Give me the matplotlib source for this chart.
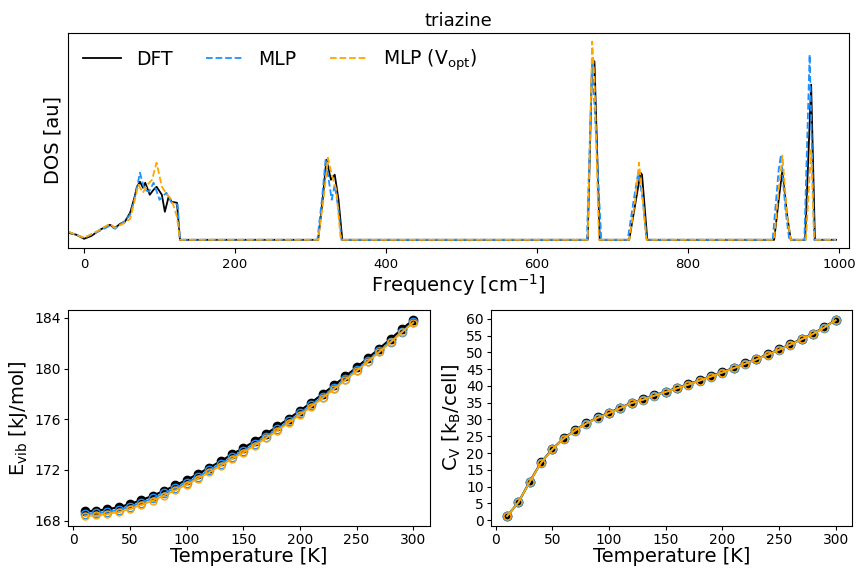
import matplotlib
matplotlib.use("Agg")
import matplotlib.pyplot as plt
from matplotlib.ticker import MultipleLocator

# ---------------- DOS data (frequency in cm^-1, DOS in arbitrary units) ----------------
dft_freq = [-21, -10, 0, 10, 21, 34, 41, 48, 54, 61, 67, 70, 74, 78, 81, 87, 92, 96, 103, 107,
            112, 116, 123, 127, 310, 316, 321, 327, 332, 337, 342, 667, 673, 676, 683, 722, 731,
            737, 739, 746, 914, 920, 925, 931, 936, 955, 963, 968, 996]
dft_dos = [0.07, 0.05, 0.01, 0.04, 0.10, 0.15, 0.12, 0.16, 0.18, 0.27, 0.43, 0.53, 0.58, 0.52, 0.57,
           0.45, 0.50, 0.53, 0.45, 0.28, 0.43, 0.38, 0.37, 0.0, 0.0, 0.40, 0.80, 0.60, 0.65, 0.40, 0.0,
           0.0, 1.80, 1.78, 0.0, 0.0, 0.40, 0.67, 0.65, 0.0, 0.0, 0.40, 0.70, 0.25, 0.0, 0.0, 1.55,
           0.0, 0.0]

mlp_freq = [-21, 0, 21, 34, 41, 54, 61, 67, 74, 80, 86, 92, 100, 109, 116, 124, 127, 309, 315, 320,
            324, 328, 332, 337, 341, 666, 673, 677, 685, 720, 728, 734, 740, 745, 912, 920, 923, 929,
            934, 954, 961, 967, 996]
mlp_dos = [0.08, 0.02, 0.09, 0.14, 0.11, 0.19, 0.25, 0.41, 0.67, 0.50, 0.48, 0.57, 0.40, 0.47, 0.37,
           0.35, 0.0, 0.0, 0.40, 0.81, 0.60, 0.40, 0.55, 0.30, 0.0, 0.0, 1.80, 1.20, 0.0, 0.0, 0.40,
           0.67, 0.40, 0.0, 0.0, 0.70, 0.85, 0.30, 0.0, 0.0, 1.85, 0.0, 0.0]

vopt_freq = [-21, 0, 21, 34, 41, 54, 61, 65, 72, 78, 84, 90, 96, 103, 110, 116, 123, 127, 310, 317,
             323, 328, 334, 340, 667, 673, 676, 682, 722, 730, 735, 738, 745, 914, 920, 925, 931,
             936, 956, 963, 967, 996]
vopt_dos = [0.08, 0.02, 0.10, 0.16, 0.12, 0.17, 0.21, 0.33, 0.55, 0.47, 0.55, 0.60, 0.77, 0.53, 0.45,
            0.40, 0.23, 0.0, 0.0, 0.40, 0.82, 0.65, 0.50, 0.0, 0.0, 1.98, 1.60, 0.0, 0.0, 0.40, 0.77,
            0.55, 0.0, 0.0, 0.50, 0.84, 0.25, 0.0, 0.0, 0.90, 0.0, 0.0]

# ---------------- Thermodynamics ----------------
temps = [10, 20, 30, 40, 50, 60, 70, 80, 90, 100, 110, 120, 130, 140, 150,
         160, 170, 180, 190, 200, 210, 220, 230, 240, 250, 260, 270, 280, 290, 300]

evib_dft = [168.73, 168.78, 168.89, 169.05, 169.30, 169.62, 169.95, 170.35, 170.77, 171.21,
            171.68, 172.18, 172.68, 173.23, 173.72, 174.27, 174.84, 175.43, 176.04, 176.67,
            177.32, 177.99, 178.68, 179.38, 180.10, 180.83, 181.58, 182.34, 183.12, 183.85]
evib_mlp = [168.52, 168.57, 168.68, 168.84, 169.09, 169.41, 169.74, 170.14, 170.56, 171.00,
            171.47, 171.97, 172.47, 173.02, 173.51, 174.06, 174.63, 175.22, 175.83, 176.46,
            177.11, 177.78, 178.47, 179.17, 179.89, 180.62, 181.37, 182.13, 182.91, 183.65]
evib_vopt = [168.35, 168.40, 168.51, 168.67, 168.92, 169.24, 169.57, 169.97, 170.39, 170.83,
             171.31, 171.81, 172.32, 172.87, 173.37, 173.92, 174.50, 175.09, 175.71, 176.34,
             176.99, 177.67, 178.37, 179.08, 179.80, 180.54, 181.30, 182.07, 182.86, 183.62]

cv_dft = [1.2, 5.3, 11.5, 17.2, 21.2, 24.4, 26.8, 28.9, 30.6, 32.0, 33.5, 35.0, 36.0, 37.2, 38.3,
          39.4, 40.5, 41.7, 42.9, 44.1, 45.4, 46.7, 48.0, 49.4, 50.9, 52.4, 54.0, 55.6, 57.5, 59.7]
cv_mlp = [1.2, 5.3, 11.4, 17.1, 21.1, 24.3, 26.7, 28.8, 30.5, 31.9, 33.4, 34.9, 35.9, 37.1, 38.2,
          39.3, 40.4, 41.6, 42.8, 44.0, 45.3, 46.6, 47.9, 49.3, 50.8, 52.3, 53.9, 55.5, 57.4, 59.6]
cv_vopt = [1.2, 5.3, 11.4, 17.1, 21.1, 24.3, 26.7, 28.8, 30.5, 31.9, 33.4, 34.9, 35.9, 37.1, 38.2,
           39.3, 40.4, 41.6, 42.8, 44.0, 45.3, 46.6, 47.9, 49.3, 50.8, 52.3, 53.9, 55.5, 57.4, 59.6]

c_dft = "black"
c_mlp = "dodgerblue"
c_vopt = "orange"

fig = plt.figure(figsize=(8.56, 5.71), dpi=100)

ax_top = fig.add_axes([0.0797, 0.566, 0.9120, 0.377])
ax_e = fig.add_axes([0.0797, 0.079, 0.4222, 0.378])
ax_c = fig.add_axes([0.5732, 0.079, 0.4222, 0.378])

ax_top.plot(dft_freq, dft_dos, color=c_dft, lw=1.3, label="DFT")
ax_top.plot(mlp_freq, mlp_dos, color=c_mlp, lw=1.3, ls="--", label="MLP")
ax_top.plot(vopt_freq, vopt_dos, color=c_vopt, lw=1.3, ls="--", label=r"MLP (V$_{\rm opt}$)")
ax_top.set_xlim(-21, 1013)
ax_top.set_ylim(-0.08, 2.07)
ax_top.set_yticks([])
ax_top.set_xticks([0, 200, 400, 600, 800, 1000])
ax_top.set_xlabel(r"Frequency [cm$^{-1}$]", fontsize=14, labelpad=1)
ax_top.set_ylabel("DOS [au]", fontsize=14)
ax_top.set_title("triazine", fontsize=13, pad=5)
ax_top.tick_params(labelsize=9.5)
ax_top.legend(loc="upper left", ncol=3, frameon=False, fontsize=13.5,
              borderaxespad=0.4, columnspacing=1.8)

for ax, d, m, v in [(ax_e, evib_dft, evib_mlp, evib_vopt), (ax_c, cv_dft, cv_mlp, cv_vopt)]:
    ax.plot(temps, d, color=c_dft, marker="o", ms=6, lw=1.5)
    ax.plot(temps, m, color=c_mlp, marker="o", ms=6, mfc="none", lw=1.3)
    ax.plot(temps, v, color=c_vopt, marker="o", ms=5, mfc="none", lw=1.3)
    ax.set_xlabel("Temperature [K]", fontsize=14, labelpad=0)
    ax.tick_params(labelsize=10, length=3, pad=2)
    ax.set_xticks([0, 50, 100, 150, 200, 250, 300])

ax_e.yaxis.set_major_locator(MultipleLocator(4))
ax_e.set_ylabel(r"E$_{\rm vib}$ [kJ/mol]", fontsize=14, labelpad=3)
ax_c.yaxis.set_major_locator(MultipleLocator(5))
ax_c.set_ylabel(r"C$_{\rm V}$ [k$_{\rm B}$/cell]", fontsize=14, labelpad=2)

fig.savefig("out.png", dpi=100)
